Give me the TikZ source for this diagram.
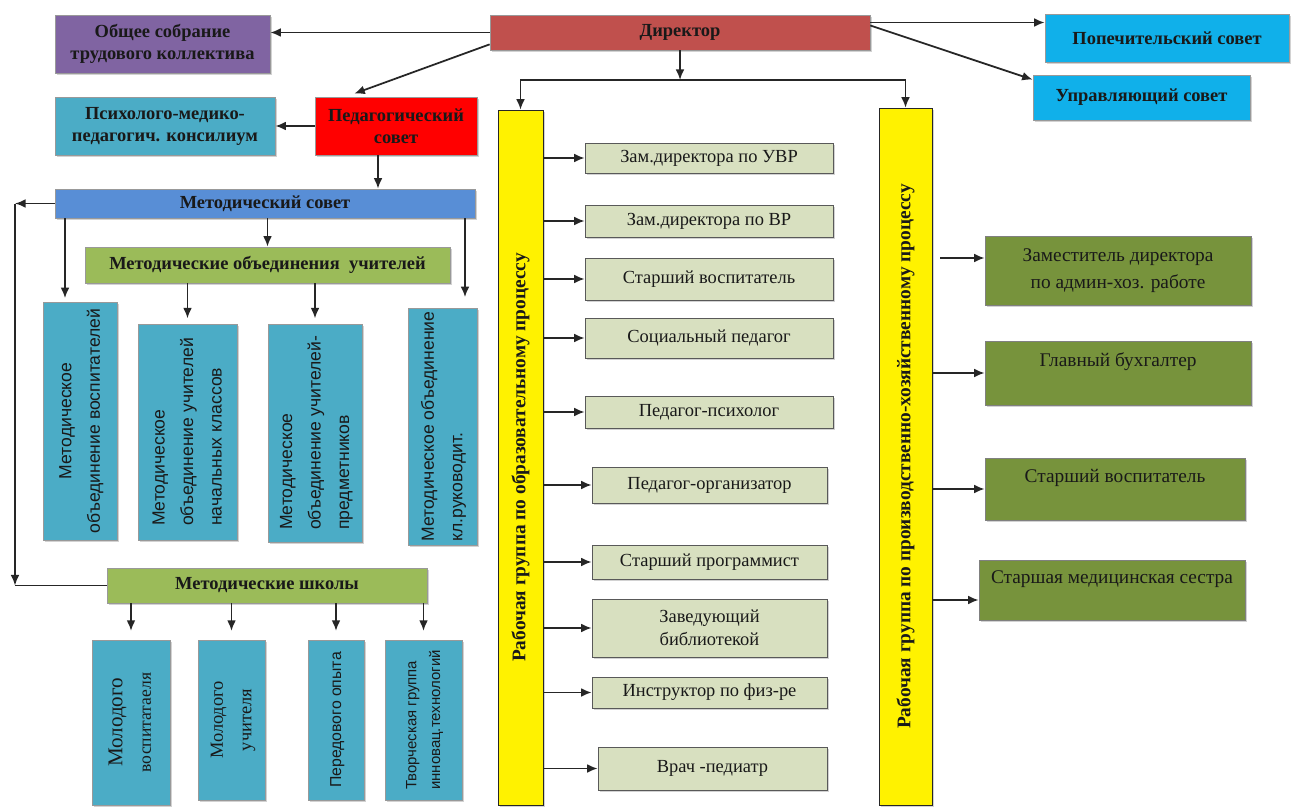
\documentclass[tikz,border=0pt]{standalone}
\usepackage{fontspec}
\setmainfont{Liberation Serif}
\setsansfont{Liberation Sans}
\newfontfamily\timesfont{Liberation Serif}
\newfontfamily\arialfont{Liberation Sans}
\usepackage{graphicx}
\usetikzlibrary{arrows.meta,shadows}

\definecolor{assemblycol}{RGB}{128,100,162}
\definecolor{directorcol}{RGB}{192,80,77}
\definecolor{skyblue}{RGB}{16,176,234}
\definecolor{tealbox}{RGB}{75,172,198}
\definecolor{councilblue}{RGB}{88,142,214}
\definecolor{leafgreen}{RGB}{155,187,89}
\definecolor{staffgreen}{RGB}{216,224,192}
\definecolor{olivegreen}{RGB}{119,147,60}

% text turned to read from bottom to top
\newcommand{\vlines}[2]{\rotatebox{90}{\renewcommand{\arraystretch}{1.35}\begin{tabular}{@{}#1@{}}#2\end{tabular}}}

\begin{document}
\begin{tikzpicture}[
        x=0.02cm, y=-0.02cm,
        box/.style={rectangle, draw=black!40, line width=0.4pt, align=center, inner sep=2pt, text=black!90,
                    drop shadow={shadow xshift=1.3pt, shadow yshift=-1.3pt, fill=black!35}},
        head/.style={box, font=\timesfont\fontsize{10.5}{12.5}\selectfont\bfseries},
        vbox/.style={box, fill=tealbox, font=\arialfont\fontsize{10}{12}\selectfont},
        group/.style={box, fill=yellow, draw=black!85, font=\timesfont\fontsize{11}{13}\selectfont\bfseries},
        staff/.style={box, fill=staffgreen, draw=black!65, font=\timesfont\fontsize{10.5}{13}\selectfont},
        admin/.style={box, fill=olivegreen, draw=black!50, font=\timesfont\fontsize{11}{15}\selectfont},
        arrow/.style={-{Latex[length=6pt,width=5pt]}, line width=1pt, black!85}
    ]
    \path[use as bounding box, fill=white] (0,0) rectangle (1291,811);

    % Top level
    \node[head, fill=directorcol, minimum width=7.6cm, minimum height=0.7cm] (director) at (680,32.5) {Директор};
    \node[head, fill=assemblycol, minimum width=4.3cm, minimum height=1.16cm] (assembly) at (162.5,44) {Общее собрание\\трудового коллектива};
    \node[head, fill=skyblue, minimum width=4.88cm, minimum height=0.96cm] (trustees) at (1167,38) {Попечительский совет};
    \node[head, fill=skyblue, minimum width=4.34cm, minimum height=0.9cm] (governing) at (1141.5,97.5) {Управляющий совет};

    % Councils
    \node[head, fill=tealbox, minimum width=4.4cm, minimum height=1.16cm] (pmpk) at (165,126) {Психолого-медико-\\педагогич. консилиум};
    \node[head, fill=red, minimum width=3.24cm, minimum height=1.16cm] (pedcouncil) at (396,126) {Педагогический\\совет};
    \node[head, fill=councilblue, minimum width=8.4cm, minimum height=0.58cm] (metcouncil) at (265,203.5) {Методический совет};
    \node[head, fill=leafgreen, minimum width=7.3cm, minimum height=0.72cm] (teachersmo) at (267.5,265) {Методические объединения\ \ учителей};

    % Methodical unions
    \node[vbox, minimum width=1.48cm, minimum height=4.76cm] (moeducators) at (80,421) {\vlines{c}{Методическое\\объединение воспитателей}};
    \node[vbox, minimum width=1.98cm, minimum height=4.32cm] (moprimary) at (187.5,432) {\vlines{l}{Методическое\\объединение учителей\\начальных классов}};
    \node[vbox, minimum width=1.88cm, minimum height=4.36cm] (mosubject) at (315,433) {\vlines{l}{Методическое\\объединение учителей-\\предметников}};
    \node[vbox, minimum width=1.38cm, minimum height=4.54cm] (moclass) at (442.5,426.5) {\vlines{l}{Методическое объединение\\кл.руководит.}};

    % Methodical schools
    \node[head, fill=leafgreen, minimum width=6.4cm, minimum height=0.7cm] (metschools) at (267,585.5) {Методические школы};
    \node[vbox, font=\timesfont\fontsize{10}{12}\selectfont, minimum width=1.56cm, minimum height=3.3cm] (youngeducator) at (131,722.5) {\vlines{c}{{\fontsize{12}{12}\selectfont Молодого}\\воспитатаеля}};
    \node[vbox, font=\timesfont\fontsize{10.5}{12}\selectfont, minimum width=1.34cm, minimum height=3.2cm] (youngteacher) at (231.5,720) {\vlines{c}{Молодого\\учителя}};
    \node[vbox, font=\arialfont\fontsize{9}{11}\selectfont, minimum width=1.12cm, minimum height=3.2cm] (bestpractice) at (336,720) {\vlines{c}{Передового опыта}};
    \node[vbox, font=\arialfont\fontsize{8.5}{10}\selectfont, minimum width=1.54cm, minimum height=3.2cm] (creative) at (423.5,720) {\vlines{l}{Творческая группа\\инновац.технологий}};

    % Working groups
    \node[group, minimum width=0.9cm, minimum height=13.9cm] (edugroup) at (520.5,457.5) {\rotatebox{90}{Рабочая группа по образовательному процессу}};
    \node[group, minimum width=1.06cm, minimum height=13.94cm] (ecogroup) at (905.5,456.5) {\rotatebox{90}{Рабочая группа по производственно-хозяйственному процессу}};

    % Educational staff
    \node[staff, minimum width=4.96cm, minimum height=0.6cm] (deputyuvr) at (709,158) {Зам.директора по УВР};
    \node[staff, minimum width=4.96cm, minimum height=0.64cm] (deputyvr) at (709,221) {Зам.директора по ВР};
    \node[staff, minimum width=4.96cm, minimum height=0.84cm] (senioredu) at (709,279) {Старший воспитатель};
    \node[staff, minimum width=4.96cm, minimum height=0.8cm] (socialped) at (709,338) {Социальный педагог};
    \node[staff, minimum width=4.96cm, minimum height=0.64cm] (psychologist) at (709,412) {Педагог-психолог};
    \node[staff, minimum width=4.7cm, minimum height=0.72cm] (organizer) at (709.5,485) {Педагог-организатор};
    \node[staff, minimum width=4.7cm, minimum height=0.68cm] (programmer) at (709.5,562) {Старший программист};
    \node[staff, minimum width=4.7cm, minimum height=1.16cm] (librarian) at (709.5,628) {Заведующий\\библиотекой};
    \node[staff, minimum width=4.7cm, minimum height=0.62cm] (pecoach) at (709.5,692.5) {Инструктор по физ-ре};
    \node[staff, minimum width=4.58cm, minimum height=0.86cm] (pediatrician) at (712.5,768.5) {Врач -педиатр};

    % Economic staff
    \node[admin, minimum width=5.32cm, minimum height=1.38cm] (deputyadmin) at (1118,270.5) {Заместитель директора\\по админ-хоз. работе};
    \node[admin, minimum width=5.32cm, minimum height=1.28cm] (accountant) at (1118,373) {Главный бухгалтер\\\mbox{}};
    \node[admin, minimum width=5.2cm, minimum height=1.24cm] (senioredu2) at (1115,489) {Старший воспитатель\\\mbox{}};
    \node[admin, minimum width=5.32cm, minimum height=1.2cm] (headnurse) at (1112,590) {Старшая медицинская сестра\\\mbox{}};

    \coordinate (split) at (680,80);
    \coordinate (looptop) at (15,203.5);
    \coordinate (loopbottom) at (15,585.5);

    % Director connections
    \draw[arrow] (director.west) -- (director.west -| assembly.east);
    \draw[arrow, shorten >=5pt] ([yshift=0.12cm]director.south west) -- ([xshift=-1cm]pedcouncil.north);
    \draw[arrow] ([yshift=0.2cm]director.east) -- ([yshift=0.2cm]director.east -| trustees.west);
    \draw[arrow] ([yshift=0.14cm]director.east) -- ([yshift=-0.1cm]governing.north west);
    \draw[arrow] (director) -- (split);
    \draw[arrow] (split) -| (edugroup);
    \draw[arrow] (split) -| (ecogroup);

    % Council connections
    \draw[arrow] (pedcouncil) -- (pmpk);
    \draw[arrow] ([xshift=-0.36cm]pedcouncil.south) -- ([xshift=-0.36cm]pedcouncil.south |- metcouncil.north);
    \draw[arrow] (metcouncil.south -| teachersmo) -- (teachersmo);
    \draw[arrow, shorten >=2pt] ([xshift=-0.3cm]metcouncil.south -| moeducators) -- ([xshift=-0.3cm]moeducators.north);
    \draw[arrow, shorten >=6pt] ([xshift=0.45cm]metcouncil.south -| moclass) -- ([xshift=0.45cm]moclass.north);
    \draw[arrow, shorten >=3pt] (teachersmo.south -| moprimary) -- (moprimary);
    \draw[arrow, shorten >=3pt] (teachersmo.south -| mosubject) -- (mosubject);
    \draw[arrow] (metcouncil.west) -- (looptop);
    \draw[arrow] (looptop) -- (loopbottom);
    \draw[line width=1pt, black!85] (loopbottom) -- (metschools.west);

    % Schools
    \draw[arrow, shorten >=5pt] (metschools.south -| youngeducator) -- (youngeducator);
    \draw[arrow, shorten >=5pt] (metschools.south -| youngteacher) -- (youngteacher);
    \draw[arrow, shorten >=5pt] (metschools.south -| bestpractice) -- (bestpractice);
    \draw[arrow, shorten >=5pt] (metschools.south -| creative) -- (creative);

    % Educational group
    \draw[arrow] (edugroup.east |- deputyuvr) -- (deputyuvr);
    \draw[arrow] (edugroup.east |- deputyvr) -- (deputyvr);
    \draw[arrow] (edugroup.east |- senioredu) -- (senioredu);
    \draw[arrow] (edugroup.east |- socialped) -- (socialped);
    \draw[arrow] (edugroup.east |- psychologist) -- (psychologist);
    \draw[arrow] (edugroup.east |- organizer) -- (organizer);
    \draw[arrow] (edugroup.east |- programmer) -- (programmer);
    \draw[arrow] (edugroup.east |- librarian) -- (librarian);
    \draw[arrow] (edugroup.east |- pecoach) -- (pecoach);
    \draw[arrow] (edugroup.east |- pediatrician) -- (pediatrician);

    % Economic group
    \draw[arrow] ([xshift=0.16cm, yshift=0.25cm]ecogroup.east |- deputyadmin) -- ([yshift=0.25cm]deputyadmin.west);
    \draw[arrow] (ecogroup.east |- accountant) -- (accountant);
    \draw[arrow] (ecogroup.east |- senioredu2) -- (senioredu2);
    \draw[arrow] ([yshift=-0.2cm]ecogroup.east |- headnurse) -- ([yshift=-0.2cm]headnurse.west);

\end{tikzpicture}
\end{document}
